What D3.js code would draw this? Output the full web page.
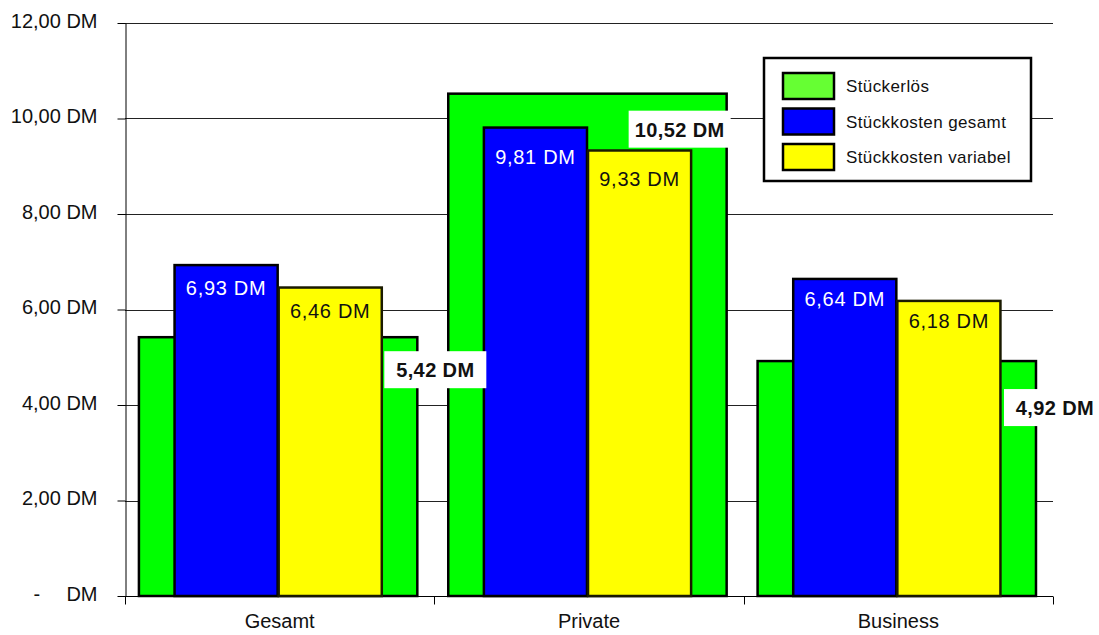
<!DOCTYPE html>
<html>
<head>
<meta charset="utf-8">
<script src="https://cdn.jsdelivr.net/npm/d3@7"></script>
<style>
  html, body { margin: 0; padding: 0; background: #fff; }
  svg { display: block; font-family: "Liberation Sans", Arial, sans-serif; }
</style>
</head>
<body>
<svg id="chart" width="1099" height="635"></svg>
<script>
// Stückerlös und Stückkosten je Kundensegment
const categories = ["Gesamt", "Private", "Business"];
const erloes = [5.42, 10.52, 4.92];            // Stückerlös
const kostenGesamt = [6.93, 9.81, 6.64];       // Stückkosten gesamt
const kostenVariabel = [6.46, 9.33, 6.18];     // Stückkosten variabel
const seriesNames = ["Stückerlös", "Stückkosten gesamt", "Stückkosten variabel"];
const yTicks = [0, 2, 4, 6, 8, 10, 12];

const fmt = v => v.toFixed(2).replace(".", ",") + " DM";

// layout
const plot = { left: 125, right: 1053, top: 23, bottom: 596 };
const colors = { erloes: "#00ff00", gesamt: "#0000ff", variabel: "#ffff00", legendErloes: "#66ff33" };
// placement of the bold revenue labels relative to each green bar (dx from right edge, dy from top)
const erloesLabelShift = [{ dx: 18, dy: 33 }, { dx: -47, dy: 36 }, { dx: 19, dy: 47 }];
const innerLabelDy = [30, 36, 27];

const svg = d3.select("#chart");

const y = d3.scaleLinear().domain([0, 12]).range([plot.bottom, plot.top]);
const x = d3.scaleBand().domain(categories).range([plot.left, plot.right]).padding(0);
const bw = x.bandwidth();

// gridlines
svg.append("g")
  .selectAll("line")
  .data(yTicks.filter(t => t > 0))
  .join("line")
  .attr("x1", plot.left).attr("x2", plot.right)
  .attr("y1", d => Math.round(y(d)) + 0.5).attr("y2", d => Math.round(y(d)) + 0.5)
  .attr("stroke", "#222").attr("stroke-width", 1);

// y axis
const yAxis = svg.append("g")
  .attr("transform", `translate(${plot.left + 0.5},0)`)
  .call(d3.axisLeft(y).tickValues(yTicks).tickSize(8).tickSizeOuter(0).tickPadding(20)
    .tickFormat(d => d === 0 ? "DM" : fmt(d)));
yAxis.select(".domain").attr("stroke", "#000");
yAxis.selectAll(".tick line").attr("stroke", "#000");
yAxis.selectAll(".tick text")
  .attr("font-size", 20).attr("fill", "#111")
  .attr("font-family", "Liberation Sans, Arial, sans-serif")
  .attr("dy", "0.22em");
yAxis.selectAll(".tick").filter(d => d === 0)
  .append("text")
  .attr("x", -92).attr("dy", "0.22em")
  .attr("font-size", 20).attr("fill", "#111")
  .attr("font-family", "Liberation Sans, Arial, sans-serif")
  .attr("text-anchor", "start")
  .text("-");

// x axis
const xAxisG = svg.append("g").attr("transform", `translate(0,${plot.bottom + 0.5})`);
xAxisG.append("line").attr("x1", plot.left).attr("x2", plot.right).attr("stroke", "#000");
const boundaries = categories.map(c => x(c)).concat([x(categories[categories.length - 1]) + bw]);
xAxisG.selectAll("line.tk").data(boundaries).join("line").attr("class", "tk")
  .attr("x1", d => Math.round(d) + 0.5).attr("x2", d => Math.round(d) + 0.5)
  .attr("y1", 0).attr("y2", 8).attr("stroke", "#000");
xAxisG.selectAll("text").data(categories).join("text")
  .attr("x", d => x(d) + bw / 2).attr("y", 31)
  .attr("text-anchor", "middle").attr("font-size", 20).attr("fill", "#111")
  .text(d => d);

// bars
const barsG = svg.append("g");
const greenX = i => x(categories[i]) + bw * 0.045;
const greenW = bw * 0.9;
const centerX = i => x(categories[i]) + bw / 2 - 2;
const subW = bw / 3;

barsG.selectAll("rect.erloes").data(erloes).join("rect").attr("class", "erloes")
  .attr("x", (d, i) => greenX(i)).attr("width", greenW)
  .attr("y", d => y(d)).attr("height", d => y(0) - y(d))
  .attr("fill", colors.erloes).attr("stroke", "#000").attr("stroke-width", 2.5);

barsG.selectAll("rect.gesamt").data(kostenGesamt).join("rect").attr("class", "gesamt")
  .attr("x", (d, i) => centerX(i) - subW).attr("width", subW)
  .attr("y", d => y(d)).attr("height", d => y(0) - y(d))
  .attr("fill", colors.gesamt).attr("stroke", "#000").attr("stroke-width", 2.5);

barsG.selectAll("rect.variabel").data(kostenVariabel).join("rect").attr("class", "variabel")
  .attr("x", (d, i) => centerX(i) + 1).attr("width", subW)
  .attr("y", d => y(d)).attr("height", d => y(0) - y(d))
  .attr("fill", colors.variabel).attr("stroke", "#1a1a00").attr("stroke-width", 2.5);

// value labels inside the cost bars
barsG.selectAll("text.gesamt").data(kostenGesamt).join("text").attr("class", "gesamt")
  .attr("x", (d, i) => centerX(i) - subW / 2).attr("y", (d, i) => y(d) + innerLabelDy[i])
  .attr("text-anchor", "middle").attr("font-size", 20).attr("letter-spacing", 0.7)
  .attr("fill", "#fff").text(d => fmt(d));

barsG.selectAll("text.variabel").data(kostenVariabel).join("text").attr("class", "variabel")
  .attr("x", (d, i) => centerX(i) + 1 + subW / 2).attr("y", (d, i) => y(d) + innerLabelDy[i])
  .attr("text-anchor", "middle").attr("font-size", 20).attr("letter-spacing", 0.7)
  .attr("fill", "#111").text(d => fmt(d));

// bold revenue labels on white boxes
const lab = svg.append("g").selectAll("g").data(erloes).join("g")
  .attr("transform", (d, i) => `translate(${greenX(i) + greenW + erloesLabelShift[i].dx},${y(d) + erloesLabelShift[i].dy})`);
lab.append("rect").attr("x", -51).attr("y", -19).attr("width", 102).attr("height", 37).attr("fill", "#fff");
lab.append("text").attr("text-anchor", "middle").attr("y", 7)
  .attr("font-size", 20).attr("font-weight", "bold").attr("letter-spacing", 0.4)
  .attr("fill", "#111").text(d => fmt(d));

// legend
const legend = svg.append("g").attr("transform", "translate(764,58)");
legend.append("rect").attr("width", 267).attr("height", 123)
  .attr("fill", "#fff").attr("stroke", "#000").attr("stroke-width", 2.5);
const legendColors = [colors.legendErloes, colors.gesamt, colors.variabel];
const items = legend.selectAll("g.item").data(seriesNames).join("g").attr("class", "item")
  .attr("transform", (d, i) => `translate(19,${15 + i * 35.5})`);
items.append("rect").attr("width", 51).attr("height", 26)
  .attr("fill", (d, i) => legendColors[i]).attr("stroke", "#000").attr("stroke-width", 2.5);
items.append("text").attr("x", 63).attr("y", 19)
  .attr("font-size", 17).attr("letter-spacing", 0.4).attr("fill", "#111").text(d => d);
</script>
</body>
</html>
